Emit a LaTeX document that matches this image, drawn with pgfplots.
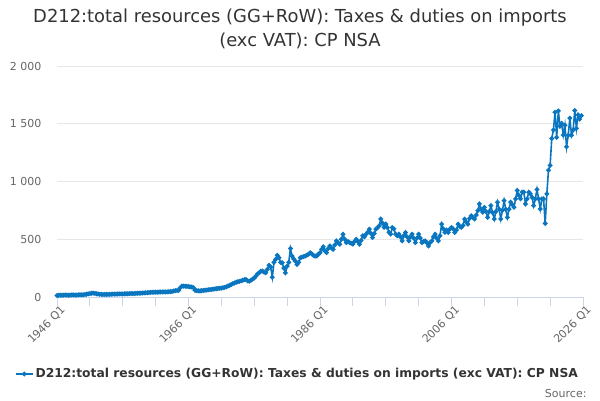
\documentclass[border=0pt]{standalone}
\usepackage{pgfplots}
\pgfplotsset{compat=1.18}
\usepackage{fontspec}
\setmainfont{DejaVu Sans}
\definecolor{ser}{HTML}{0A76BF}
\definecolor{gridc}{HTML}{E6E6E6}
\definecolor{axc}{HTML}{CCD6EB}
\definecolor{lab}{HTML}{666666}
\definecolor{tit}{HTML}{333333}
\begin{document}
\begin{tikzpicture}[x=1pt,y=1pt]
\useasboundingbox (0,0) rectangle (600,400);
\node[text=tit,font=\fontsize{17.9}{21}\selectfont] at (300,382) {D212:total resources (GG+RoW): Taxes \& duties on imports};
\node[text=tit,font=\fontsize{17.9}{21}\selectfont] at (300,359) {(exc VAT): CP NSA};
\begin{axis}[
  at={(57pt,103pt)}, anchor=south west,
  width=526pt, height=231pt, scale only axis,
  xmin=1946, xmax=2026, ymin=0, ymax=2000,
  axis x line*=bottom, axis y line*=left,
  x axis line style={-,color=axc,line width=0.8pt},
  y axis line style={draw=none},
  ytick={0,500,1000,1500,2000},
  yticklabels={0,500,1 000,1 500,2 000},
  ytick style={draw=none},
  ymajorgrids, grid style={color=gridc,line width=0.8pt},
  xtick={1946,1966,1986,2006,2026},
  xticklabels={1946 Q1,1966 Q1,1986 Q1,2006 Q1,2026 Q1},
  minor xtick={1951,1956,1961,1971,1976,1981,1991,1996,2001,2011,2016,2021},
  tick align=outside, major tick length=9pt, minor tick length=9pt,
  xtick style={color=axc,line width=0.8pt},
  minor x tick style={color=axc,line width=0.8pt},
  xticklabel style={rotate=45,anchor=north east,font=\fontsize{11}{13}\selectfont,text=lab,inner sep=1pt,xshift=4pt},
  yticklabel style={font=\fontsize{11}{13}\selectfont,text=lab,xshift=-3pt},
  clip=false,
  legend style={at={(0.457,-0.333)},anchor=center,draw=none,fill=none,
    font=\bfseries\fontsize{12.3}{14}\selectfont,text=tit},
]
\addplot[color=ser,line width=1.6pt,mark=*,mark size=1.5pt] coordinates {
(1946.00,14)(1946.25,15)(1946.50,16)(1946.75,15)
(1947.00,16)(1947.25,17)(1947.50,17)(1947.75,16)
(1948.00,17)(1948.25,18)(1948.50,18)(1948.75,17)
(1949.00,18)(1949.25,19)(1949.50,19)(1949.75,19)
(1950.00,20)(1950.25,22)(1950.50,24)(1950.75,27)
(1951.00,30)(1951.25,32)(1951.50,33)(1951.75,31)
(1952.00,28)(1952.25,26)(1952.50,24)(1952.75,23)
(1953.00,22)(1953.25,22)(1953.50,23)(1953.75,23)
(1954.00,23)(1954.25,24)(1954.50,25)(1954.75,25)
(1955.00,25)(1955.25,26)(1955.50,27)(1955.75,27)
(1956.00,27)(1956.25,28)(1956.50,28)(1956.75,28)
(1957.00,29)(1957.25,30)(1957.50,30)(1957.75,31)
(1958.00,31)(1958.25,32)(1958.50,33)(1958.75,33)
(1959.00,34)(1959.25,35)(1959.50,36)(1959.75,37)
(1960.00,39)(1960.25,40)(1960.50,41)(1960.75,41)
(1961.00,42)(1961.25,42)(1961.50,43)(1961.75,43)
(1962.00,43)(1962.25,44)(1962.50,44)(1962.75,44)
(1963.00,45)(1963.25,46)(1963.50,48)(1963.75,52)
(1964.00,55)(1964.25,56)(1964.50,57)(1964.75,80)
(1965.00,95)(1965.25,94)(1965.50,93)(1965.75,92)
(1966.00,90)(1966.25,88)(1966.50,86)(1966.75,80)
(1967.00,58)(1967.25,55)(1967.50,54)(1967.75,53)
(1968.00,55)(1968.25,57)(1968.50,58)(1968.75,60)
(1969.00,62)(1969.25,64)(1969.50,66)(1969.75,68)
(1970.00,70)(1970.25,72)(1970.50,74)(1970.75,75)
(1971.00,76)(1971.25,80)(1971.50,84)(1971.75,88)
(1972.00,95)(1972.25,100)(1972.50,108)(1972.75,115)
(1973.00,122)(1973.25,128)(1973.50,132)(1973.75,135)
(1974.00,140)(1974.25,145)(1974.50,150)(1974.75,151)
(1975.00,140)(1975.25,136)(1975.50,145)(1975.75,155)
(1976.00,165)(1976.25,180)(1976.50,200)(1976.75,210)
(1977.00,223)(1977.25,225)(1977.50,215)(1977.75,209)
(1978.00,240)(1978.25,275)(1978.50,260)(1978.75,171)
(1979.00,300)(1979.25,325)(1979.50,362)(1979.75,340)
(1980.00,300)(1980.25,296)(1980.50,250)(1980.75,209)
(1981.00,267)(1981.25,300)(1981.50,420)(1981.75,354)
(1982.00,330)(1982.25,310)(1982.50,281)(1982.75,300)
(1983.00,339)(1983.25,345)(1983.50,350)(1983.75,355)
(1984.00,362)(1984.25,370)(1984.50,383)(1984.75,375)
(1985.00,360)(1985.25,354)(1985.50,355)(1985.75,370)
(1986.00,383)(1986.25,413)(1986.50,435)(1986.75,400)
(1987.00,384)(1987.25,420)(1987.50,442)(1987.75,425)
(1988.00,413)(1988.25,450)(1988.50,486)(1988.75,470)
(1989.00,457)(1989.25,500)(1989.50,544)(1989.75,500)
(1990.00,471)(1990.25,480)(1990.50,471)(1990.75,465)
(1991.00,457)(1991.25,480)(1991.50,500)(1991.75,480)
(1992.00,457)(1992.25,490)(1992.50,530)(1992.75,520)
(1993.00,544)(1993.25,560)(1993.50,588)(1993.75,550)
(1994.00,515)(1994.25,550)(1994.50,588)(1994.75,600)
(1995.00,617)(1995.25,675)(1995.50,640)(1995.75,602)
(1996.00,631)(1996.25,600)(1996.50,560)(1996.75,544)
(1997.00,602)(1997.25,590)(1997.50,545)(1997.75,530)
(1998.00,544)(1998.25,520)(1998.50,486)(1998.75,530)
(1999.00,559)(1999.25,520)(1999.50,486)(1999.75,520)
(2000.00,544)(2000.25,510)(2000.50,471)(2000.75,510)
(2001.00,544)(2001.25,510)(2001.50,471)(2001.75,480)
(2002.00,486)(2002.25,470)(2002.50,442)(2002.75,470)
(2003.00,486)(2003.25,520)(2003.50,544)(2003.75,510)
(2004.00,486)(2004.25,530)(2004.50,631)(2004.75,590)
(2005.00,559)(2005.25,580)(2005.50,559)(2005.75,588)
(2006.00,602)(2006.25,590)(2006.50,559)(2006.75,580)
(2007.00,631)(2007.25,610)(2007.50,602)(2007.75,620)
(2008.00,675)(2008.25,650)(2008.50,631)(2008.75,680)
(2009.00,704)(2009.25,690)(2009.50,675)(2009.75,710)
(2010.00,748)(2010.25,806)(2010.50,760)(2010.75,733)
(2011.00,777)(2011.25,740)(2011.50,690)(2011.75,740)
(2012.00,791)(2012.25,730)(2012.50,675)(2012.75,740)
(2013.00,821)(2013.25,760)(2013.50,675)(2013.75,750)
(2014.00,835)(2014.25,760)(2014.50,690)(2014.75,760)
(2015.00,821)(2015.25,800)(2015.50,777)(2015.75,850)
(2016.00,922)(2016.25,879)(2016.50,850)(2016.75,908)
(2017.00,908)(2017.25,806)(2017.50,850)(2017.75,908)
(2018.00,893)(2018.25,864)(2018.50,791)(2018.75,850)
(2019.00,931)(2019.25,850)(2019.50,762)(2019.75,850)
(2020.00,850)(2020.25,637)(2020.50,893)(2020.75,1097)
(2021.00,1140)(2021.25,1373)(2021.50,1446)(2021.75,1600)
(2022.00,1382)(2022.25,1612)(2022.50,1478)(2022.75,1504)
(2023.00,1402)(2023.25,1487)(2023.50,1301)(2023.75,1400)
(2024.00,1548)(2024.25,1400)(2024.50,1446)(2024.75,1615)
(2025.00,1460)(2025.25,1577)(2025.50,1540)(2025.75,1570)
};
\addlegendentry{D212:total resources (GG+RoW): Taxes \& duties on imports (exc VAT): CP NSA}
\end{axis}
\node[anchor=east,text=lab,font=\fontsize{11}{13}\selectfont] at (590,7) {Source:};
\end{tikzpicture}
\end{document}
